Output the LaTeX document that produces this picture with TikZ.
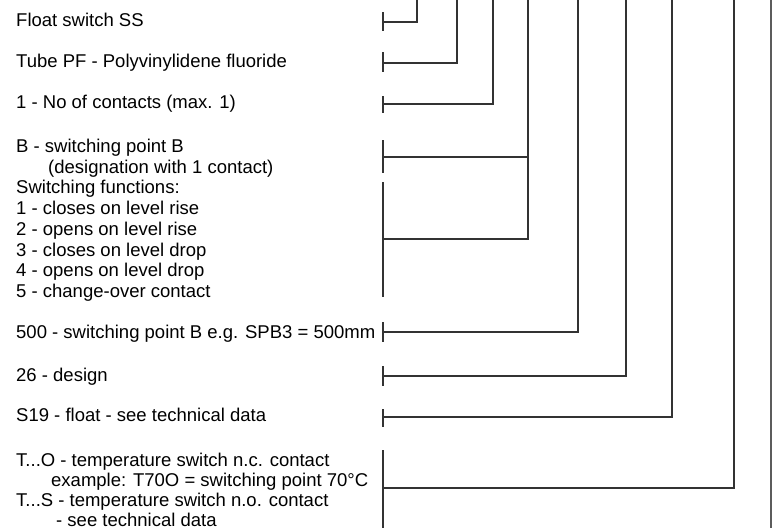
\documentclass[tikz,border=0pt]{standalone}
\usepackage{fontspec}
\setmainfont{Liberation Sans}
\usetikzlibrary{calc}
\definecolor{lineg}{HTML}{333333}
\tikzset{
	code/.style={anchor=base west,align=left,inner sep=0pt,font=\fontsize{18.5}{20.7}\selectfont},
	bar/.style={draw=lineg,line width=2pt},
	lead/.style={draw=lineg,line width=1.7pt},
	lastlead/.style={draw=lineg!80,line width=1.1pt}
}

\begin{document}
\begin{tikzpicture}[x=1pt,y=-1pt]
	\useasboundingbox (0,0) rectangle (777,528);
	% order code texts (multi-line ones sit on their last baseline)
	\node[code] (ss) at (16,26.7) {Float switch SS};
	\node[code] (pf) at (16,67.7) {Tube PF - Polyvinylidene fluoride};
	\node[code] (nc) at (16,108.2) {1 - No of contacts (max. 1)};
	\node[code] (sp) at (16,297.4) {B - switching point B\\
		\hspace*{32pt}(designation with 1 contact)\\
		Switching functions:\\
		1 - closes on level rise\\
		2 - opens on level rise\\
		3 - closes on level drop\\
		4 - opens on level drop\\
		5 - change-over contact};
	\node[code] (pos) at (16,338.7) {500 - switching point B e.g. SPB3 = 500mm};
	\node[code] (des) at (16,381.5) {26 - design};
	\node[code] (fl) at (16,421.7) {S19 - float - see technical data};
	\node[code,font=\fontsize{18.5}{20}\selectfont] (tmp) at (16,526) {T...O - temperature switch n.c. contact\\
		\hspace*{35pt}example: T70O = switching point 70°C\\
		T...S - temperature switch n.o. contact\\
		\hspace*{40pt}- see technical data};
	% brackets
	\foreach \ya/\yb/\ym/\xr [count=\i] in {12/31/22/417, 52/72/63/457, 96/113/104/493,
		140/173/157/528, 322/342/332/578, 366/386/376/626, 409/427/417/672, 450/528/488/734}
	{
		\draw[bar] (383,\ya) -- (383,\yb);
		\coordinate (k\i) at (383,\ym);
		\coordinate (top\i) at (\xr,0);
		\draw[lead] (k\i) -| (top\i);
	}
	\draw[bar] (383,182) -- (383,297);
	\coordinate (k9) at (383,239);
	\draw[lead] (k9) -| (top4);
	\coordinate (top10) at (771,0);
	\coordinate (bot10) at (771,528);
	\draw[lastlead] (top10) -- (bot10);
\end{tikzpicture}
\end{document}
